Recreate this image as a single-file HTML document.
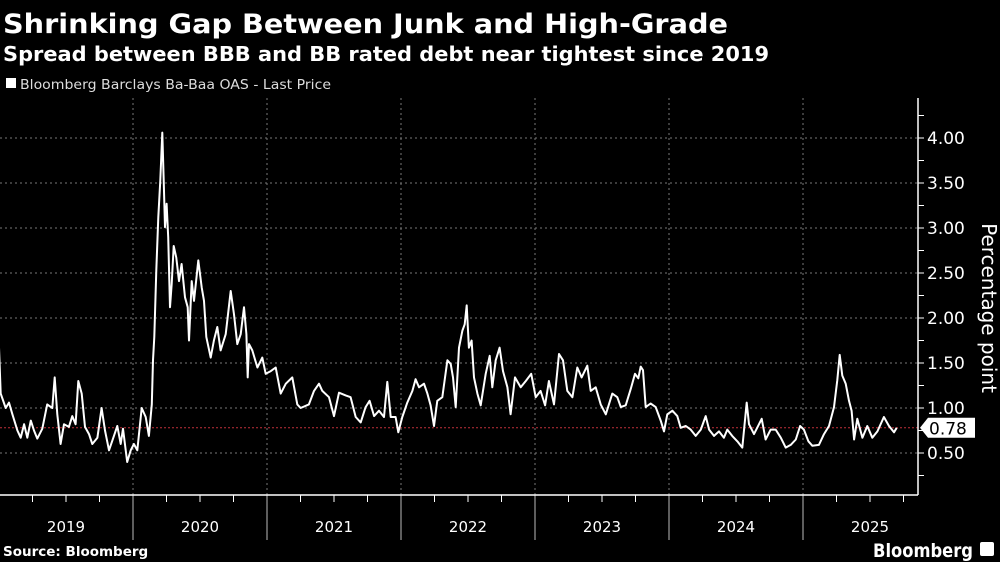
<!DOCTYPE html>
<html><head><meta charset="utf-8"><style>
html,body{margin:0;padding:0;background:#000;width:1000px;height:562px;overflow:hidden}
svg{display:block}
</style></head><body>
<svg id="chart" width="1000" height="562" viewBox="0 0 1000 562">
<text x="3" y="33" fill="#fff" font-family="DejaVu Sans, Liberation Sans, sans-serif" font-weight="bold" font-size="27" textLength="725" lengthAdjust="spacingAndGlyphs">Shrinking Gap Between Junk and High-Grade</text>
<text x="3" y="61" fill="#fff" font-family="DejaVu Sans, Liberation Sans, sans-serif" font-weight="bold" font-size="20" textLength="766" lengthAdjust="spacingAndGlyphs">Spread between BBB and BB rated debt near tightest since 2019</text>
<rect x="6" y="78" width="10" height="10" fill="#fff"/>
<text x="20" y="89" fill="#ddd" font-family="DejaVu Sans, Liberation Sans, sans-serif" font-size="13.5" textLength="311" lengthAdjust="spacingAndGlyphs">Bloomberg Barclays Ba-Baa OAS - Last Price</text>
<g id="grid"></g>
<g id="axes"></g>
<path id="line" fill="none" stroke="#fff" stroke-width="2" stroke-linejoin="round"/>
<g id="last"></g>
<text x="990" y="300" fill="#fff" font-family="DejaVu Sans, Liberation Sans, sans-serif" font-size="20" text-anchor="middle" transform="rotate(90 982 300)">Percentage point</text>
<text x="3" y="556" fill="#fff" font-family="DejaVu Sans, Liberation Sans, sans-serif" font-weight="bold" font-size="13.5">Source: Bloomberg</text>
<text x="873" y="557" fill="#fff" font-family="DejaVu Sans, Liberation Sans, sans-serif" font-weight="bold" font-size="19" textLength="100" lengthAdjust="spacingAndGlyphs">Bloomberg</text>
<rect x="980" y="542" width="14" height="14" rx="2" fill="#fff"/>
</svg>
<script>
// years since 2019-01-01
const times = [0,.013,.05,.075,.1,.137,.162,.187,.211,.237,.261,.286,.323,.36,.398,.416,.435,.46,.485,.522,.547,.572,.592,.617,.642,.672,.696,.734,.766,.791,.821,.846,.883,.908,.925,.957,.983,1.007,1.032,1.065,1.095,1.119,1.14,1.149,1.159,1.174,1.189,1.204,1.219,1.229,1.239,1.251,1.263,1.276,1.289,1.304,1.323,1.343,1.363,1.388,1.408,1.418,1.438,1.455,1.487,1.513,1.53,1.547,1.58,1.604,1.629,1.654,1.692,1.729,1.754,1.778,1.804,1.828,1.846,1.856,1.866,1.89,1.928,1.965,1.99,2.028,2.065,2.102,2.14,2.189,2.226,2.251,2.313,2.351,2.388,
2.413,2.463,2.5,2.537,2.587,2.624,2.662,2.699,2.736,2.766,2.799,2.836,2.873,2.898,2.923,2.96,2.98,3.01,3.047,3.085,3.109,3.134,3.172,3.197,3.221,3.246,3.271,3.308,3.346,3.371,3.388,3.408,3.433,3.458,3.475,3.49,3.507,3.527,3.545,3.57,3.595,3.632,3.662,3.681,3.707,3.736,3.761,3.794,3.818,3.851,3.893,3.931,3.972,4.005,4.042,4.075,4.104,4.142,4.179,4.209,4.241,4.279,4.316,4.348,4.39,4.416,4.453,4.49,4.528,4.577,4.614,
4.64,4.677,4.714,4.746,4.771,4.789,4.806,4.826,4.863,4.901,4.938,4.963,4.987,5.025,5.062,5.087,5.125,5.162,5.199,5.237,5.274,5.299,5.336,5.373,5.41,5.435,5.472,5.51,5.547,5.58,5.597,5.634,5.672,5.692,5.721,5.759,5.796,5.834,5.871,5.908,5.946,5.978,6.007,6.04,6.07,6.119,6.157,6.194,6.231,6.256,6.274,6.293,6.319,6.343,6.363,6.381,6.405,6.443,6.48,6.517,6.555,6.604,6.642,6.679,6.699];
const values = [1.67,1.16,1.0,1.06,0.93,0.75,0.67,0.82,0.67,0.86,0.75,0.66,0.77,1.04,1.0,1.34,0.93,0.6,0.82,0.79,0.91,0.82,1.30,1.16,0.79,0.71,0.6,0.67,1.0,0.75,0.53,0.64,0.8,0.6,0.77,0.4,0.53,0.6,0.53,1.0,0.9,0.69,1.04,1.53,1.79,2.53,3.12,3.53,4.06,3.53,3.01,3.27,2.9,2.12,2.38,2.80,2.67,2.41,2.6,2.23,2.12,1.75,2.41,2.19,2.64,2.34,2.19,1.79,1.56,1.75,1.9,1.64,1.82,2.30,2.04,1.71,1.82,2.12,1.82,1.34,1.71,1.64,1.45,1.56,1.38,1.41,1.45,1.16,1.27,1.34,1.04,1.0,1.04,1.19,1.27,
1.19,1.12,0.91,1.17,1.14,1.12,0.9,0.84,1.01,1.08,0.91,0.97,0.9,1.29,0.9,0.9,0.73,0.9,1.06,1.19,1.32,1.23,1.27,1.16,1.03,0.8,1.08,1.12,1.53,1.49,1.34,1.01,1.67,1.86,1.93,2.14,1.67,1.75,1.34,1.16,1.03,1.38,1.58,1.23,1.53,1.67,1.41,1.23,0.93,1.34,1.23,1.30,1.38,1.12,1.19,1.03,1.30,1.04,1.6,1.53,1.19,1.12,1.45,1.34,1.47,1.19,1.23,1.04,0.93,1.16,1.12,
1.01,1.03,1.21,1.38,1.33,1.46,1.42,1.01,1.05,1.01,0.86,0.74,0.93,0.97,0.91,0.78,0.80,0.76,0.69,0.76,0.91,0.76,0.69,0.74,0.67,0.76,0.69,0.63,0.56,1.06,0.82,0.71,0.82,0.88,0.65,0.76,0.76,0.67,0.56,0.59,0.65,0.8,0.76,0.63,0.58,0.59,0.71,0.8,1.01,1.31,1.59,1.36,1.27,1.08,0.97,0.65,0.88,0.67,0.8,0.67,0.74,0.9,0.8,0.73,0.78];
const yTicks = [0.5,1.0,1.5,2.0,2.5,3.0,3.5,4.0];
const yearLabels = ["2019","2020","2021","2022","2023","2024","2025"];
const lastValue = 0.78;

const NS = "http://www.w3.org/2000/svg";
const X0 = -1, PX_YEAR = 134, AXIS_X = 918, TOP = 98, BOTTOM = 495;
const xs = t => X0 + t * PX_YEAR;
const ys = v => 453 - (v - 0.5) * 90;
function mk(tag, attrs, parent) {
  const e = document.createElementNS(NS, tag);
  for (const k in attrs) e.setAttribute(k, attrs[k]);
  parent.appendChild(e);
  return e;
}
const grid = document.getElementById('grid');
const axes = document.getElementById('axes');
yTicks.forEach(v => {
  const g = mk('line', {x1:0, x2:AXIS_X, y1:ys(v), y2:ys(v), stroke:'#777', 'stroke-width':1, 'stroke-dasharray':'2,3'}, grid);
  
  
  const t = mk('text', {x:AXIS_X+9, y:ys(v)+6, fill:'#fff', 'font-family':'DejaVu Sans, Liberation Sans, sans-serif', 'font-size':17}, axes);
  t.textContent = v.toFixed(2);
  
  
});
for (let v = 0.25; v <= 4.25; v += 0.25) {
  const tk = mk('line', {x1:AXIS_X, x2:AXIS_X+6, y1:ys(v), y2:ys(v), stroke:'#fff', 'stroke-width':1}, axes);
  
  
}
yearLabels.forEach((lab, i) => {
  if (i > 0) {
    const gl = mk('line', {x1:xs(i), x2:xs(i), y1:TOP, y2:BOTTOM, stroke:'#777', 'stroke-width':1, 'stroke-dasharray':'2,3'}, grid);
    
    
    const sep = mk('line', {x1:xs(i), x2:xs(i), y1:BOTTOM, y2:540, stroke:'#bbb', 'stroke-width':1}, axes);
    
    
  }
  for (let q = 1; q < 4; q++) {
    const xq = xs(i + q/4);
    if (xq < AXIS_X) {
      const qt = mk('line', {x1:xq, x2:xq, y1:BOTTOM, y2:BOTTOM+7, stroke:'#fff', 'stroke-width':1}, axes);
      
      
    }
  }
  const t = mk('text', {x:xs(i+0.5), y:532, fill:'#fff', 'text-anchor':'middle', 'font-family':'DejaVu Sans, Liberation Sans, sans-serif', 'font-size':15}, axes);
  t.textContent = lab;
  
  
});
const ax1 = mk('line', {x1:0, x2:AXIS_X, y1:BOTTOM, y2:BOTTOM, stroke:'#fff', 'stroke-width':1.5}, axes);


const ax2 = mk('line', {x1:AXIS_X, x2:AXIS_X, y1:TOP, y2:BOTTOM, stroke:'#fff', 'stroke-width':1.5}, axes);


const ref = mk('line', {x1:0, x2:AXIS_X, y1:ys(lastValue), y2:ys(lastValue), stroke:'#c0303a', 'stroke-width':1, 'stroke-dasharray':'2,2'}, grid);



document.getElementById('line').setAttribute('d', times.map((t,i) => (i?'L':'M') + xs(t).toFixed(1) + ',' + ys(values[i]).toFixed(1)).join(''));

const last = document.getElementById('last');
const ly = ys(lastValue);
const box = mk('path', {d:`M${AXIS_X+2},${ly} L${AXIS_X+10},${ly-10} L975,${ly-10} L975,${ly+10} L${AXIS_X+10},${ly+10} Z`, fill:'#fff'}, last);


const lt = mk('text', {x:AXIS_X+11, y:ly+6.5, fill:'#000', 'font-family':'DejaVu Sans, Liberation Sans, sans-serif', 'font-size':17}, last);
lt.textContent = lastValue.toFixed(2);


</script>
</body></html>
